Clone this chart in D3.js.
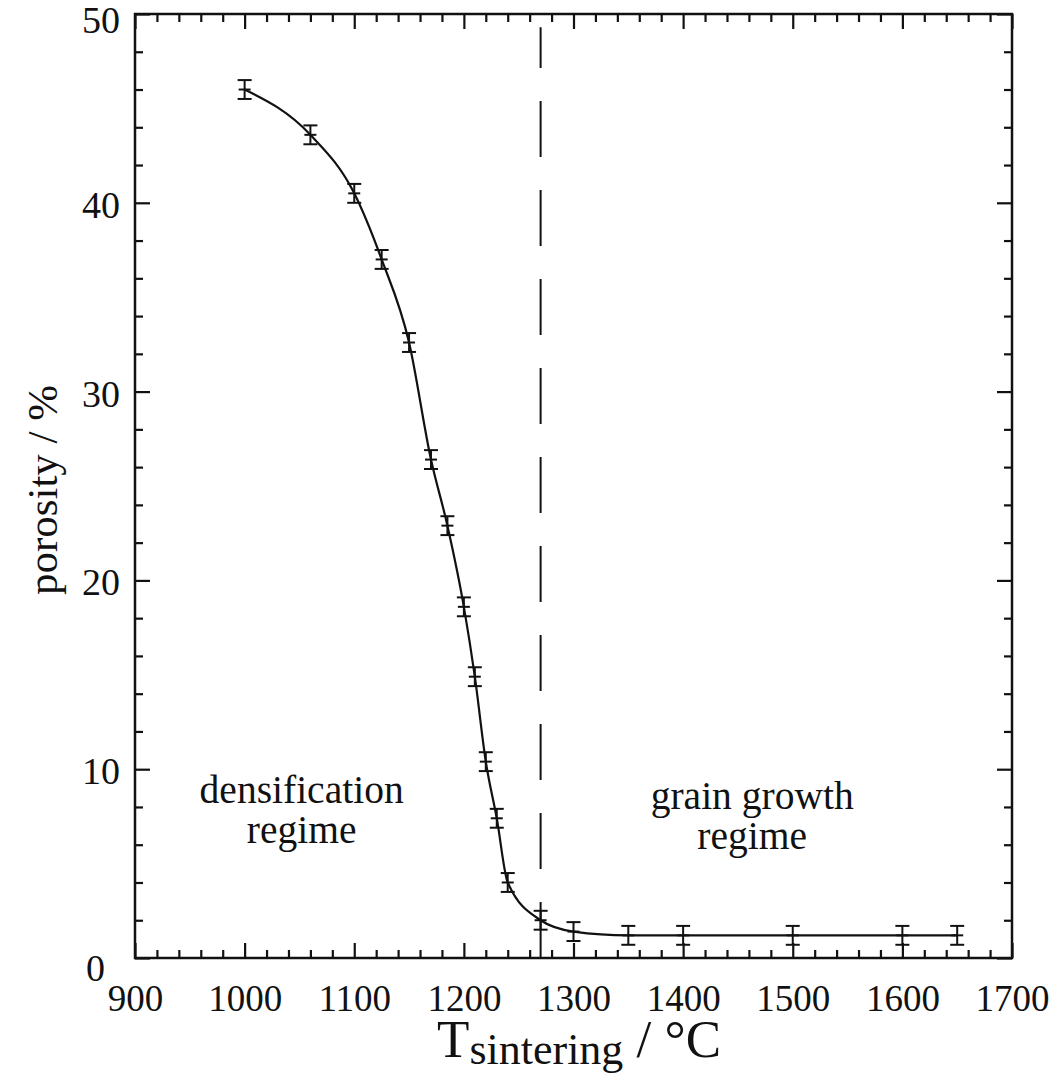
<!DOCTYPE html>
<html>
<head>
<meta charset="utf-8">
<script src="https://cdn.jsdelivr.net/npm/d3@7"></script>
<style>
  html, body { margin: 0; padding: 0; background: #fff; }
  svg { display: block; }
  text { font-family: "Liberation Serif", "Times New Roman", serif; fill: #111; }
</style>
</head>
<body>
<svg id="chart" width="1055" height="1074"></svg>
<script>
// Sintering temperature (°C) of each sample
const temps = [1000, 1060, 1100, 1125, 1150, 1170, 1185, 1200, 1210, 1220,
               1230, 1240, 1270, 1300, 1350, 1400, 1500, 1600, 1650];
// Measured porosity (%)
const porosity = [46.0, 43.6, 40.5, 37.0, 32.6, 26.4, 22.9, 18.6, 14.9, 10.4,
                  7.4, 4.0, 2.0, 1.4, 1.2, 1.2, 1.2, 1.2, 1.2];
// Uncertainty of each measurement (±, %)
const errors = [0.5, 0.5, 0.5, 0.5, 0.5, 0.5, 0.5, 0.5, 0.5, 0.5,
                0.5, 0.5, 0.5, 0.5, 0.5, 0.5, 0.5, 0.5, 0.5];

// Axis ticks
const xMajorTicks = [900, 1000, 1100, 1200, 1300, 1400, 1500, 1600, 1700];
const yMajorTicks = [0, 10, 20, 30, 40, 50];
const xMinorStep = 20;
const yMinorStep = 2;

// Boundary between the two regimes
const regimeBoundary = 1270;
const regimeLabels = [
  { lines: ["densification", "regime"], T: 1052, p: 8.2 },
  { lines: ["grain growth", "regime"], T: 1463, p: 7.9 }
];

const W = 1055, H = 1074;
const margin = { top: 14, right: 43, bottom: 116, left: 135 };
const iw = W - margin.left - margin.right;
const ih = H - margin.top - margin.bottom;

const svg = d3.select("#chart");
const g = svg.append("g").attr("transform", `translate(${margin.left},${margin.top})`);

const x = d3.scaleLinear().domain([900, 1700]).range([0, iw]);
const y = d3.scaleLinear().domain([0, 50]).range([ih, 0]);

const xMinor = d3.range(900, 1700 + 1e-9, xMinorStep).filter(v => v % 100 !== 0);
const yMinor = d3.range(0, 50 + 1e-9, yMinorStep).filter(v => v % 10 !== 0);

const majorLen = 15, minorLen = 8;

function styleAxis(sel) {
  sel.select(".domain").remove();
  sel.selectAll(".tick line").attr("stroke", "#111").attr("stroke-width", 2.2);
}

// Inward ticks on all four sides
g.append("g").attr("transform", `translate(0,${ih})`)
  .call(d3.axisBottom(x).tickValues(xMinor).tickSize(-minorLen).tickFormat(""))
  .call(styleAxis);
const xBottom = g.append("g").attr("transform", `translate(0,${ih})`)
  .call(d3.axisBottom(x).tickValues(xMajorTicks).tickSize(-majorLen).tickPadding(0).tickFormat(d3.format("d")))
  .call(styleAxis);
xBottom.selectAll(".tick text")
  .attr("y", 53).attr("dy", 0)
  .attr("font-size", 37)
  .attr("font-family", "Liberation Serif");

g.append("g")
  .call(d3.axisTop(x).tickValues(xMinor).tickSize(-minorLen).tickFormat(""))
  .call(styleAxis);
g.append("g")
  .call(d3.axisTop(x).tickValues(xMajorTicks).tickSize(-majorLen).tickFormat(""))
  .call(styleAxis);

g.append("g")
  .call(d3.axisLeft(y).tickValues(yMinor).tickSize(-minorLen).tickFormat(""))
  .call(styleAxis);
const yLeft = g.append("g")
  .call(d3.axisLeft(y).tickValues(yMajorTicks).tickSize(-majorLen).tickFormat(d3.format("d")))
  .call(styleAxis);
yLeft.selectAll(".tick text")
  .attr("x", d => d === 0 ? -30 : -15)
  .attr("dy", d => d === 0 ? "0.58em" : d === 50 ? "0.48em" : "0.38em")
  .attr("font-size", 38)
  .attr("font-family", "Liberation Serif");

g.append("g").attr("transform", `translate(${iw},0)`)
  .call(d3.axisRight(y).tickValues(yMinor).tickSize(-minorLen).tickFormat(""))
  .call(styleAxis);
g.append("g").attr("transform", `translate(${iw},0)`)
  .call(d3.axisRight(y).tickValues(yMajorTicks).tickSize(-majorLen).tickFormat(""))
  .call(styleAxis);

// Plot frame
g.append("rect")
  .attr("x", 0).attr("y", 0).attr("width", iw).attr("height", ih)
  .attr("fill", "none").attr("stroke", "#111").attr("stroke-width", 2.5);

// Regime boundary (dashed), dashes laid out from the bottom axis upward
g.append("line")
  .attr("x1", x(regimeBoundary)).attr("x2", x(regimeBoundary))
  .attr("y1", y(0)).attr("y2", y(49.3))
  .attr("stroke", "#111").attr("stroke-width", 2)
  .attr("stroke-dasharray", "56,33");

const data = temps.map((T, i) => ({ T, p: porosity[i], e: errors[i] }));

// Smooth curve through the measurements
const line = d3.line()
  .x(d => x(d.T)).y(d => y(d.p))
  .curve(d3.curveMonotoneX);
g.append("path").datum(data)
  .attr("d", line)
  .attr("fill", "none").attr("stroke", "#111").attr("stroke-width", 2.2);

// Error bars with caps and a short dash at each measured value
const capW = 7;
const eb = g.append("g").attr("stroke", "#111").attr("stroke-width", 2);
const pts = eb.selectAll("g.pt").data(data).join("g").attr("class", "pt");
pts.append("line")
  .attr("x1", d => x(d.T)).attr("x2", d => x(d.T))
  .attr("y1", d => y(d.p + d.e)).attr("y2", d => y(d.p - d.e));
pts.append("line")
  .attr("x1", d => x(d.T) - capW).attr("x2", d => x(d.T) + capW)
  .attr("y1", d => y(d.p + d.e)).attr("y2", d => y(d.p + d.e));
pts.append("line")
  .attr("x1", d => x(d.T) - capW).attr("x2", d => x(d.T) + capW)
  .attr("y1", d => y(d.p - d.e)).attr("y2", d => y(d.p - d.e));
pts.append("line")
  .attr("x1", d => x(d.T) - capW + 1).attr("x2", d => x(d.T) + capW - 1)
  .attr("y1", d => y(d.p)).attr("y2", d => y(d.p));

// Regime annotations
regimeLabels.forEach(r => {
  const t = g.append("text")
    .attr("x", x(r.T)).attr("y", y(r.p))
    .attr("text-anchor", "middle")
    .attr("font-size", 39.5);
  r.lines.forEach((s, i) => {
    t.append("tspan").attr("x", x(r.T)).attr("dy", i === 0 ? 0 : 40).text(s);
  });
});

// Axis titles
const xt = svg.append("text")
  .attr("x", 437)
  .attr("y", 1057)
  .attr("font-size", 53);
xt.append("tspan").text("T");
xt.append("tspan").attr("font-size", 44).attr("dy", 7).text("sintering");
xt.append("tspan").attr("dy", -7).text(" / °C");

svg.append("text")
  .attr("transform", `translate(57,${490}) rotate(-90)`)
  .attr("text-anchor", "middle")
  .attr("font-size", 43)
  .text("porosity / %");
</script>
</body>
</html>
